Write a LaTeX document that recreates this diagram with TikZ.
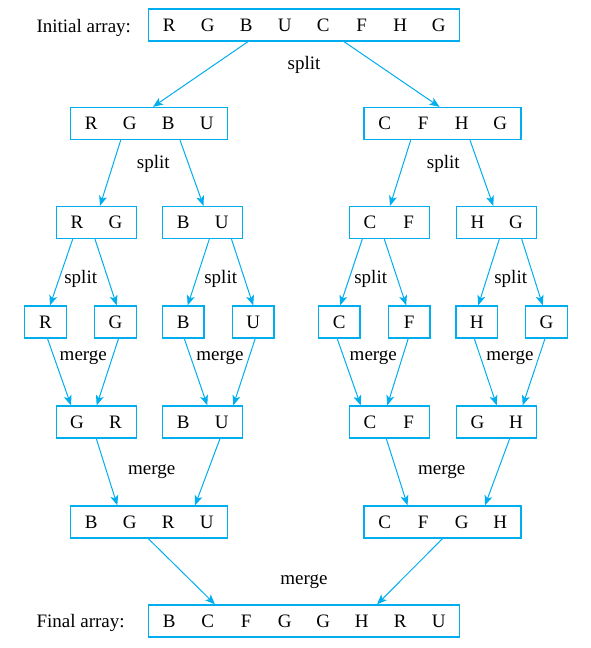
\documentclass[tikz,border=0pt]{standalone}
\usepackage{fontspec}
\setmainfont{Liberation Serif}
\usetikzlibrary{arrows.meta,positioning}
\definecolor{boxblue}{RGB}{0,174,239}
\newcommand{\cells}[1]{\foreach \cellname in {#1}{\makebox[38.5pt]{\cellname}}}

\begin{document}
\begin{tikzpicture}[x=1pt,y=-1pt,>={Stealth[length=10pt,width=8pt,inset=2.5pt]},
	every node/.style={font=\fontsize{19}{23}\selectfont},
	arraybox/.style={draw=boxblue,line width=1.3pt,inner xsep=1.5pt,inner ysep=0pt,minimum height=32pt},
	link/.style={->,draw=boxblue,line width=1pt}]
		\useasboundingbox (0,0) rectangle (590,648);
		
		% arrays
		\node[arraybox] (top) at (304,25) {\cells{R,G,B,U,C,F,H,G}};
		\node[arraybox] (lft) at (149,123.5) {\cells{R,G,B,U}};
		\node[arraybox] (rgt) at (442.5,123.5) {\cells{C,F,H,G}};
		\node[arraybox] (rg) at (96.3,222.5) {\cells{R,G}};
		\node[arraybox] (bu) at (202.5,222.5) {\cells{B,U}};
		\node[arraybox] (cf) at (389.3,222.5) {\cells{C,F}};
		\node[arraybox] (hg) at (496.7,222.5) {\cells{H,G}};
		\node[arraybox] (r) at (45.5,322) {\cells{R}};
		\node[arraybox] (g) at (115.5,322) {\cells{G}};
		\node[arraybox] (b) at (183.3,322) {\cells{B}};
		\node[arraybox] (u) at (253.2,322) {\cells{U}};
		\node[arraybox] (c) at (339.2,322) {\cells{C}};
		\node[arraybox] (f) at (409.2,322) {\cells{F}};
		\node[arraybox] (h) at (476.7,322) {\cells{H}};
		\node[arraybox] (gg) at (546.5,322) {\cells{G}};
		\node[arraybox] (gr) at (96.3,422) {\cells{G,R}};
		\node[arraybox] (bu2) at (202.5,422) {\cells{B,U}};
		\node[arraybox] (cf2) at (389.3,422) {\cells{C,F}};
		\node[arraybox] (gh) at (496.7,422) {\cells{G,H}};
		\node[arraybox] (bgru) at (149,522) {\cells{B,G,R,U}};
		\node[arraybox] (cfgh) at (442.5,522) {\cells{C,F,G,H}};
		\node[arraybox] (final) at (304,621) {\cells{B,C,F,G,G,H,R,U}};
		
		\node[anchor=west] (initlbl) at (33,28) {Initial array:};
		\node[anchor=west] (finallbl) at (33,623) {Final array:};
		
		% split and merge labels
		\node (s0) at (304,64.5) {split};
		\node (s1) at (153.3,163.5) {split};
		\node (s2) at (443.3,163.5) {split};
		\node (s3) at (80.7,278.5) {split};
		\node (s4) at (220.7,278.5) {split};
		\node (s5) at (370.7,278.5) {split};
		\node (s6) at (510.7,278.5) {split};
		\node (m1) at (83.3,357.5) {merge};
		\node (m2) at (220,357.5) {merge};
		\node (m3) at (373.3,357.5) {merge};
		\node (m4) at (510,357.5) {merge};
		\node (m5) at (151.7,471.5) {merge};
		\node (m6) at (441.7,471.5) {merge};
		\node (m7) at (304,581.5) {merge};
		
		% split arrows
		\draw[link] ([xshift=-56pt]top.south) -- ([xshift=4pt]lft.north);
		\draw[link] ([xshift=40pt]top.south) -- ([xshift=-3pt]rgt.north);
		\draw[link] ([xshift=-28.3pt]lft.south) -- ([xshift=3.7pt]rg.north);
		\draw[link] ([xshift=31pt]lft.south) -- ([xshift=1pt]bu.north);
		\draw[link] ([xshift=-31.8pt]rgt.south) -- ([xshift=0.7pt]cf.north);
		\draw[link] ([xshift=27.5pt]rgt.south) -- ([xshift=-3.4pt]hg.north);
		\draw[link] ([xshift=-23.6pt]rg.south) -- ([xshift=4.5pt]r.north);
		\draw[link] ([xshift=-1.3pt]rg.south) -- ([xshift=1.2pt]g.north);
		\draw[link] ([xshift=6.8pt]bu.south) -- ([xshift=4.4pt]b.north);
		\draw[link] ([xshift=29pt]bu.south) -- (u.north);
		\draw[link] ([xshift=-27pt]cf.south) -- ([xshift=1pt]c.north);
		\draw[link] ([xshift=-5pt]cf.south) -- ([xshift=-3pt]f.north);
		\draw[link] ([xshift=2.6pt]hg.south) -- ([xshift=1.6pt]h.north);
		\draw[link] ([xshift=25pt]hg.south) -- ([xshift=-3.8pt]gg.north);
		
		% merge arrows
		\draw[link] ([xshift=2pt]r.south) -- ([xshift=-25.3pt]gr.north);
		\draw[link] ([xshift=3pt]g.south) -- ([xshift=0.4pt]gr.north);
		\draw[link] ([xshift=1pt]b.south) -- ([xshift=4.8pt]bu2.north);
		\draw[link] ([xshift=2pt]u.south) -- ([xshift=30.8pt]bu2.north);
		\draw[link] ([xshift=-2pt]c.south) -- ([xshift=-28.6pt]cf2.north);
		\draw[link] ([xshift=-1pt]f.south) -- ([xshift=-2pt]cf2.north);
		\draw[link] ([xshift=-2.4pt]h.south) -- (gh.north);
		\draw[link] ([xshift=-1.5pt]gg.south) -- ([xshift=26pt]gh.north);
		\draw[link] (gr.south) -- ([xshift=-31.7pt]bgru.north);
		\draw[link] ([xshift=17.5pt]bu2.south) -- ([xshift=46pt]bgru.north);
		\draw[link] ([xshift=-3pt]cf2.south) -- ([xshift=-35pt]cfgh.north);
		\draw[link] ([xshift=13pt]gh.south) -- ([xshift=42.5pt]cfgh.north);
		\draw[link] ([xshift=-0.7pt]bgru.south) -- ([xshift=-89pt]final.north);
		\draw[link] (cfgh.south) -- ([xshift=73pt]final.north);
	\end{tikzpicture}
\end{document}
